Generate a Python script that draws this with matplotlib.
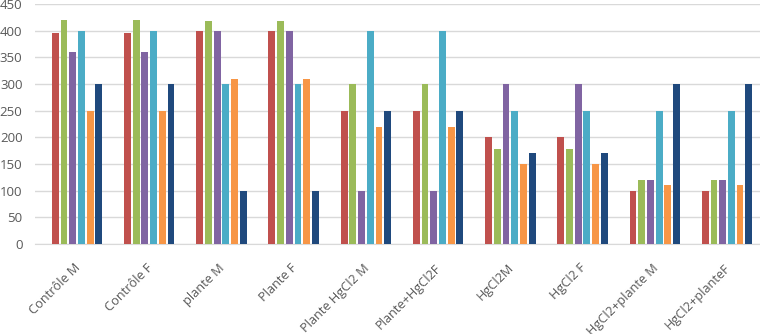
import matplotlib
matplotlib.use("Agg")
import matplotlib.pyplot as plt
import matplotlib.transforms as mtransforms
import numpy as np

categories = ["Contrôle M", "Contrôle F", "plante M", "Plante F", "Plante HgCl2 M",
              "Plante+HgCl2F", "HgCl2M", "HgCl2 F", "HgCl2+plante M", "HgCl2+planteF"]
s1 = [395, 395, 400, 400, 250, 250, 200, 200, 100, 100]
s2 = [420, 420, 418, 418, 300, 300, 178, 178, 120, 120]
s3 = [360, 360, 400, 400, 100, 100, 300, 300, 120, 120]
s4 = [400, 400, 300, 300, 400, 400, 250, 250, 250, 250]
s5 = [250, 250, 310, 310, 220, 220, 150, 150, 110, 110]
s6 = [300, 300, 100, 100, 250, 250, 170, 170, 300, 300]
series = [s1, s2, s3, s4, s5, s6]
colors = ["#C0504D", "#9BBB59", "#8064A2", "#4BACC6", "#F79646", "#1F497D"]
yticks = [0, 50, 100, 150, 200, 250, 300, 350, 400, 450]

plt.rcParams['font.family'] = ['Open Sans', 'DejaVu Sans']
fig = plt.figure(figsize=(7.6, 3.34), dpi=100)
ax = fig.add_axes([35/760, 90/334, 725/760, 240/334])

x = np.arange(len(categories))
step = 0.1205
bw = 0.095
for k, (vals, c) in enumerate(zip(series, colors)):
    ax.bar(x + (k - 2.5) * step, vals, width=bw, color=c, zorder=3)

ax.set_xlim(-0.582, 9.457)
ax.set_ylim(0, 450)
ax.set_yticks(yticks)
ax.set_yticklabels([str(v) for v in yticks], fontsize=9.5, color="#595959")
ax.yaxis.grid(True, color="#D9D9D9", linewidth=1, zorder=0)
ax.set_xticks(x)
ax.set_xticklabels(categories, rotation=45, ha="right", rotation_mode="anchor",
                   fontsize=9.2, color="#595959")
ax.tick_params(axis="both", length=0)
ax.tick_params(axis="y", pad=9)
ax.tick_params(axis="x", pad=6)
offset = mtransforms.ScaledTranslation(-3/100, -9/100, fig.dpi_scale_trans)
for lbl in ax.get_xticklabels():
    lbl.set_transform(lbl.get_transform() + offset)
for s in ["top", "right", "left"]:
    ax.spines[s].set_visible(False)
ax.spines["bottom"].set_color("#D9D9D9")
fig.savefig("out.png", dpi=100)
